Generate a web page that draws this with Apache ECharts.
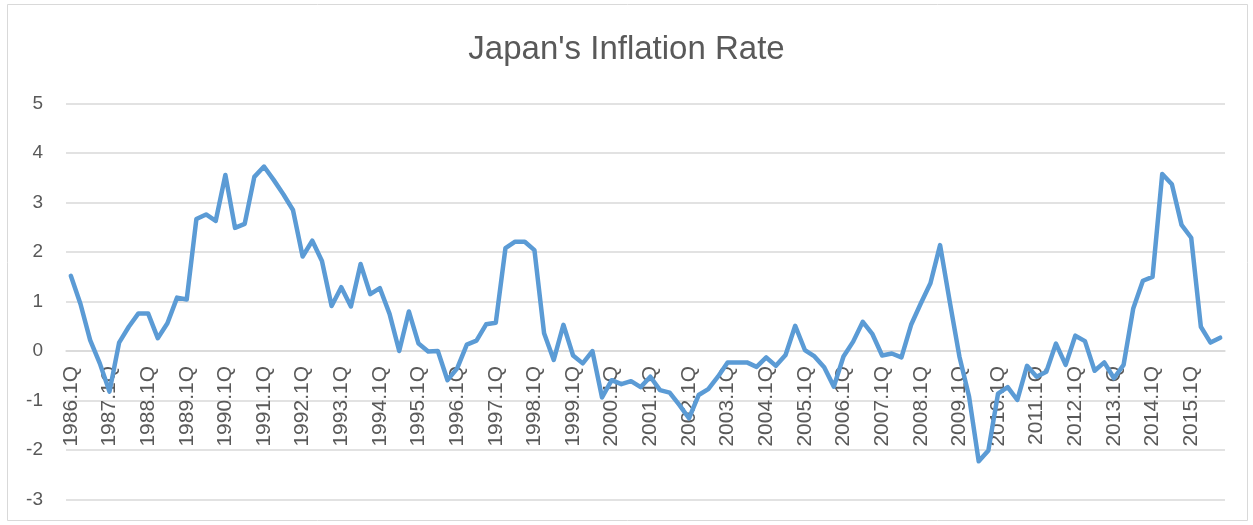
<!DOCTYPE html>
<html>
<head>
<meta charset="utf-8">
<script src="https://cdn.jsdelivr.net/npm/echarts@6/dist/echarts.min.js"></script>
<style>
html,body{margin:0;padding:0;background:#fff;}
#chart{width:1253px;height:525px;}
</style>
</head>
<body>
<div id="chart"></div>
<script>
// Quarterly inflation rate (%), 1986.1Q – 2015.4Q
const years = [1986,1987,1988,1989,1990,1991,1992,1993,1994,1995,1996,1997,1998,1999,2000,
               2001,2002,2003,2004,2005,2006,2007,2008,2009,2010,2011,2012,2013,2014,2015];
const quarters = ['1Q','2Q','3Q','4Q'];
const categories = [];
years.forEach(y => quarters.forEach(q => categories.push(y + '.' + q)));

const v1986_1990 = [1.52, 0.95, 0.22, -0.25,  -0.82, 0.17, 0.49, 0.76,  0.76, 0.26, 0.56, 1.08,
                    1.04, 2.67, 2.76, 2.63,   3.56, 2.49, 2.57, 3.52];
const v1991_1995 = [3.73, 3.46, 3.17, 2.85,   1.91, 2.23, 1.82, 0.91,   1.29, 0.90, 1.76, 1.15,
                    1.27, 0.75, 0.00, 0.80,   0.15, -0.01, 0.00, -0.59];
const v1996_2000 = [-0.35, 0.13, 0.21, 0.54,  0.57, 2.08, 2.21, 2.21,   2.04, 0.36, -0.18, 0.53,
                    -0.09, -0.25, 0.00, -0.94, -0.59, -0.67, -0.61, -0.73];
const v2001_2005 = [-0.52, -0.79, -0.84, -1.09, -1.36, -0.89, -0.77, -0.52, -0.23, -0.23, -0.23, -0.32,
                    -0.13, -0.30, -0.08, 0.51,  0.02, -0.11, -0.33, -0.72];
const v2006_2010 = [-0.11, 0.19, 0.59, 0.34,  -0.09, -0.05, -0.13, 0.53,  0.96, 1.37, 2.14, 1.00,
                    -0.11, -0.92, -2.23, -2.01, -0.86, -0.73, -0.99, -0.30];
const v2011_2015 = [-0.52, -0.42, 0.15, -0.28, 0.31, 0.20, -0.40, -0.23, -0.55, -0.28, 0.86, 1.42,
                    1.50, 3.58, 3.37, 2.55,   2.29, 0.49, 0.17, 0.27];
const inflation = [].concat(v1986_1990, v1991_1995, v1996_2000, v2001_2005, v2006_2010, v2011_2015);

const yTicks = [-3, -2, -1, 0, 1, 2, 3, 4, 5];

const GRID_TOP = 103.7, GRID_BOTTOM = 25.6, H = 525;
const plotH = H - GRID_TOP - GRID_BOTTOM;
const yMin = yTicks[0], yMax = yTicks[yTicks.length - 1];
// move the category axis up to the zero line
const zeroOffset = -plotH * (0 - yMin) / (yMax - yMin);

const chart = echarts.init(document.getElementById('chart'), null, {renderer: 'canvas'});
chart.setOption({
  animation: false,
  backgroundColor: '#ffffff',
  title: {
    text: "Japan's Inflation Rate",
    left: 'center',
    top: 28,
    textStyle: {fontFamily: 'Liberation Sans', fontSize: 33, fontWeight: 'normal', color: '#595959'}
  },
  graphic: [{
    type: 'rect',
    shape: {x: 7.5, y: 4.5, width: 1240, height: 516},
    style: {fill: 'none', stroke: '#d9d9d9', lineWidth: 1},
    silent: true
  }],
  grid: {left: 66, right: 28, top: GRID_TOP, bottom: GRID_BOTTOM, containLabel: false, outerBoundsMode: 'none'},
  xAxis: {
    type: 'category',
    data: categories,
    boundaryGap: true,
    position: 'bottom',
    offset: zeroOffset,
    axisLine: {show: true, onZero: false, lineStyle: {color: '#d9d9d9', width: 1.5}},
    axisTick: {show: false},
    axisLabel: {
      interval: 3,
      rotate: 90,
      margin: 15,
      color: '#595959',
      fontFamily: 'Liberation Sans',
      fontSize: 21
    },
    splitLine: {show: false}
  },
  yAxis: {
    type: 'value',
    min: yMin,
    max: yMax,
    interval: 1,
    axisLine: {show: false},
    axisTick: {show: false},
    axisLabel: {margin: 23, color: '#595959', fontFamily: 'Liberation Sans', fontSize: 19},
    splitLine: {show: true, lineStyle: {color: '#d9d9d9', width: 1.5}}
  },
  series: [{
    type: 'line',
    data: inflation,
    showSymbol: false,
    symbol: 'none',
    lineStyle: {color: '#5b9bd5', width: 4.5, join: 'round', cap: 'round'},
    itemStyle: {color: '#5b9bd5'}
  }]
});
</script>
</body>
</html>
